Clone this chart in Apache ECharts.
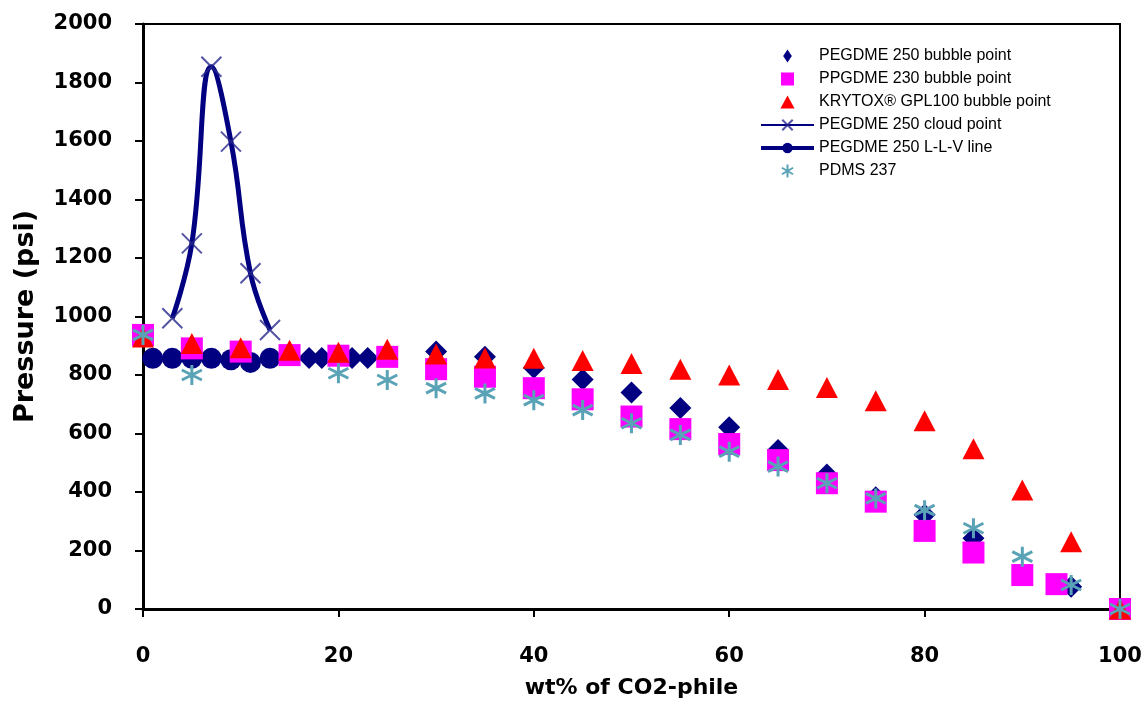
<!DOCTYPE html>
<html>
<head>
<meta charset="utf-8">
<script src="https://cdn.jsdelivr.net/npm/echarts@6/dist/echarts.min.js"></script>
<style>html,body{margin:0;padding:0;background:#fff}#c{width:1148px;height:707px}</style>
</head>
<body>
<div id="c"></div>
<script>
// ---- data (x = wt% of CO2-phile, y = pressure psi) ----
const pegdmeBubbleX = [17, 18.3, 21.4, 23, 30, 35, 40, 45, 50, 55, 60, 65, 70, 75, 80, 85, 95, 100];
const pegdmeBubbleY = [858, 858, 858, 858, 880, 862, 825, 785, 740, 687, 621, 544, 460, 382, 322, 242, 76, 0];

const ppgdmeX = [0, 5, 10, 15, 20, 25, 30, 35, 40, 45, 50, 55, 60, 65, 70, 75, 80, 85, 90, 93.5, 100];
const ppgdmeY = [937, 891, 880, 868, 866, 862, 820, 794, 755, 717, 658, 615, 564, 509, 430, 367, 267, 193, 116, 85, 0];

const krytoxX = [0, 5, 10, 15, 20, 25, 30, 35, 40, 45, 50, 55, 60, 65, 70, 75, 80, 85, 90, 95, 100];
const krytoxY = [930, 908, 893, 885, 878, 888, 872, 858, 857, 850, 839, 820, 800, 785, 757, 712, 644, 548, 407, 230, 0];

const cloudX = [3, 5, 7, 9, 11, 13];
const cloudY = [994, 1250, 1854, 1598, 1148, 954];

const llvX = [1, 3, 5, 7, 9, 11, 13];
const llvY = [857, 857, 857, 857, 852, 843, 857];

const pdmsX = [0, 5, 20, 25, 30, 35, 40, 45, 50, 55, 60, 65, 70, 75, 80, 85, 90, 95, 100];
const pdmsY = [937, 800, 806, 783, 755, 737, 714, 680, 635, 595, 538, 487, 430, 378, 338, 276, 179, 82, 0];

const xTicks = { min: 0, max: 100, interval: 20 };
const yTicks = { min: 0, max: 2000, interval: 200 };

const names = [
  'PEGDME 250 bubble point',
  'PPGDME 230 bubble point',
  'KRYTOX\u00AE GPL100 bubble point',
  'PEGDME 250 cloud point',
  'PEGDME 250 L-L-V line',
  'PDMS 237'
];

const zip = (xs, ys) => xs.map((x, i) => [x, ys[i]]);

const asterisk = 'path://M5,0L5,10M0.7,2.5L9.3,7.5M0.7,7.5L9.3,2.5';
const crossX = 'path://M0,0L10,10M10,0L0,10';
const diamondIcon = 'path://M5,0L9,6L5,12L1,6Z';
const squareIcon = 'path://M0,0L12,0L12,12L0,12Z';
const triangleIcon = 'path://M6,0L12,11L0,11Z';

const chart = echarts.init(document.getElementById('c'), null, { renderer: 'canvas' });
const axisFont = { fontFamily: 'DejaVu Sans', fontWeight: 'bold', fontSize: 21, color: '#000' };
const plain = v => String(v);

chart.setOption({
  animation: false,
  backgroundColor: '#fff',
  grid: { left: 143, right: 28, top: 24, bottom: 98, show: true, borderColor: '#000', borderWidth: 2 },
  legend: {
    orient: 'vertical',
    left: 754,
    top: 43,
    itemWidth: 53,
    itemHeight: 13,
    itemGap: 7,
    symbolKeepAspect: true,
    textStyle: { fontFamily: 'Liberation Sans', fontSize: 16, color: '#000' },
    data: [
      { name: names[0], icon: diamondIcon, itemStyle: { color: '#000080', opacity: 1 } },
      { name: names[1], icon: squareIcon, itemStyle: { color: '#FF00FF', opacity: 1 } },
      { name: names[2], icon: triangleIcon, itemStyle: { color: '#FF0000', opacity: 1 } },
      { name: names[3], lineStyle: { width: 2, color: '#000080' } },
      { name: names[4], lineStyle: { width: 4, color: '#000080' } },
      { name: names[5] }
    ]
  },
  xAxis: {
    type: 'value',
    min: xTicks.min, max: xTicks.max, interval: xTicks.interval,
    name: 'wt% of CO2-phile',
    nameLocation: 'middle',
    nameGap: 68,
    nameTextStyle: { fontFamily: 'DejaVu Sans', fontWeight: 'bold', fontSize: 22, color: '#000' },
    axisLine: { lineStyle: { color: '#000', width: 3 } },
    axisTick: { show: true, inside: false, length: 8, lineStyle: { color: '#000', width: 2 } },
    axisLabel: Object.assign({ margin: 37, formatter: plain }, axisFont),
    splitLine: { show: false }
  },
  yAxis: {
    type: 'value',
    min: yTicks.min, max: yTicks.max, interval: yTicks.interval,
    name: 'Pressure (psi)',
    nameLocation: 'middle',
    nameGap: 104,
    nameTextStyle: { fontFamily: 'DejaVu Sans', fontWeight: 'bold', fontSize: 27, color: '#000' },
    axisLine: { lineStyle: { color: '#000', width: 3 } },
    axisTick: { show: true, inside: false, length: 8, lineStyle: { color: '#000', width: 2 } },
    axisLabel: Object.assign({ margin: 31, formatter: plain }, axisFont),
    splitLine: { show: false }
  },
  series: [
    {
      name: names[0], type: 'scatter', z: 2,
      symbol: 'diamond', symbolSize: 22,
      itemStyle: { color: '#000080', opacity: 1 },
      data: zip(pegdmeBubbleX, pegdmeBubbleY)
    },
    {
      name: names[4], type: 'line', z: 3,
      symbol: 'circle', symbolSize: 21, showSymbol: true,
      lineStyle: { color: '#000080', width: 4 },
      itemStyle: { color: '#000080', borderWidth: 0, opacity: 1 },
      data: zip(llvX, llvY)
    },
    {
      name: names[1], type: 'scatter', z: 4,
      symbol: 'rect', symbolSize: 22,
      itemStyle: { color: '#FF00FF', opacity: 1 },
      data: zip(ppgdmeX, ppgdmeY)
    },
    {
      name: names[2], type: 'scatter', z: 5,
      symbol: 'triangle', symbolSize: [22, 21],
      itemStyle: { color: '#FF0000', opacity: 1 },
      data: zip(krytoxX, krytoxY)
    },
    {
      name: names[5], type: 'scatter', z: 6,
      symbol: asterisk, symbolSize: 20,
      itemStyle: { color: 'rgba(0,0,0,0)', borderColor: '#5AA3B6', borderWidth: 3, opacity: 1 },
      data: zip(pdmsX, pdmsY)
    },
    {
      name: names[3], type: 'line', z: 7,
      smooth: 0.45,
      symbol: crossX, symbolSize: 20, showSymbol: true,
      lineStyle: { color: '#000080', width: 5 },
      itemStyle: { color: 'rgba(0,0,0,0)', borderColor: 'rgba(40,40,140,0.8)', borderWidth: 2, opacity: 1 },
      data: zip(cloudX, cloudY)
    }
  ]
});
</script>
</body>
</html>
